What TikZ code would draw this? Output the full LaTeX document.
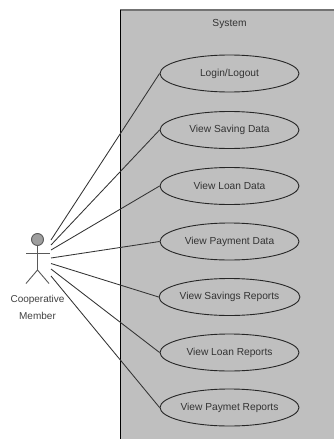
\documentclass[tikz,border=0pt]{standalone}
\usepackage{fontspec}
\setmainfont{Liberation Sans}
\usetikzlibrary{shapes.geometric}
\begin{document}
\begin{tikzpicture}[x=1pt,y=-1pt,
  usecase/.style={draw=black!85,line width=0.9pt,ellipse,minimum width=139pt,minimum height=37pt,inner sep=0pt,font=\fontsize{10.2}{12}\selectfont,text=black!80},
  assoc/.style={draw=black!80,line width=0.85pt},
  actorline/.style={draw=black!65,line width=0.9pt}]
\useasboundingbox (0,0) rectangle (333,439);
% system boundary
\fill[fill=black!25] (120,10) rectangle (335,441);
\draw[black!55,line width=1.6pt] (120,10) -- (335,10);
\draw[black,line width=0.9pt] (120,10) -- (120,441);
\node[font=\fontsize{10.2}{12}\selectfont,text=black!80] (sys) at (229.5,23.5) {System};
% use cases
\node[usecase] (u1) at (229.5,73.5) {Login/Logout};
\node[usecase] (u2) at (229.5,130) {View Saving Data};
\node[usecase] (u3) at (229.5,186) {View Loan Data};
\node[usecase] (u4) at (229.5,241.5) {View Payment Data};
\node[usecase] (u5) at (229.5,297) {View Savings Reports};
\node[usecase] (u6) at (229.5,352.5) {View Loan Reports};
\node[usecase] (u7) at (229.5,407.5) {View Paymet Reports};
% actor
\node[circle,draw=black!65,fill=black!38,line width=0.9pt,minimum size=12pt,inner sep=0pt] (head) at (37.5,239.5) {};
\coordinate (hip) at (37.5,270);
\coordinate (armL) at (26,253.5);
\coordinate (armR) at (50,253.5);
\coordinate (legL) at (26,283.5);
\coordinate (legR) at (49,283.5);
\draw[actorline] (head.south) -- (hip);
\draw[actorline] (armL) -- (armR);
\draw[actorline] (legL) -- (hip) -- (legR);
\node[font=\fontsize{10}{16.5}\selectfont,text=black!75,align=center] (actor) at (37.5,307.5) {Cooperative\\Member};
% association end points at the actor
\coordinate (a1) at (51,240);
\coordinate (a2) at (51,245);
\coordinate (a3) at (51,250);
\coordinate (a4) at (51,258);
\coordinate (a5) at (51,263.5);
\coordinate (a6) at (51,269);
\coordinate (a7) at (51,276);
\draw[assoc] (a1) -- (u1.west);
\draw[assoc] (a2) -- (u2.west);
\draw[assoc] (a3) -- (u3.west);
\draw[assoc] (a4) -- (u4.west);
\draw[assoc] (a5) -- (u5.west);
\draw[assoc] (a6) -- (u6.west);
\draw[assoc] (a7) -- (u7.west);
\end{tikzpicture}
\end{document}
